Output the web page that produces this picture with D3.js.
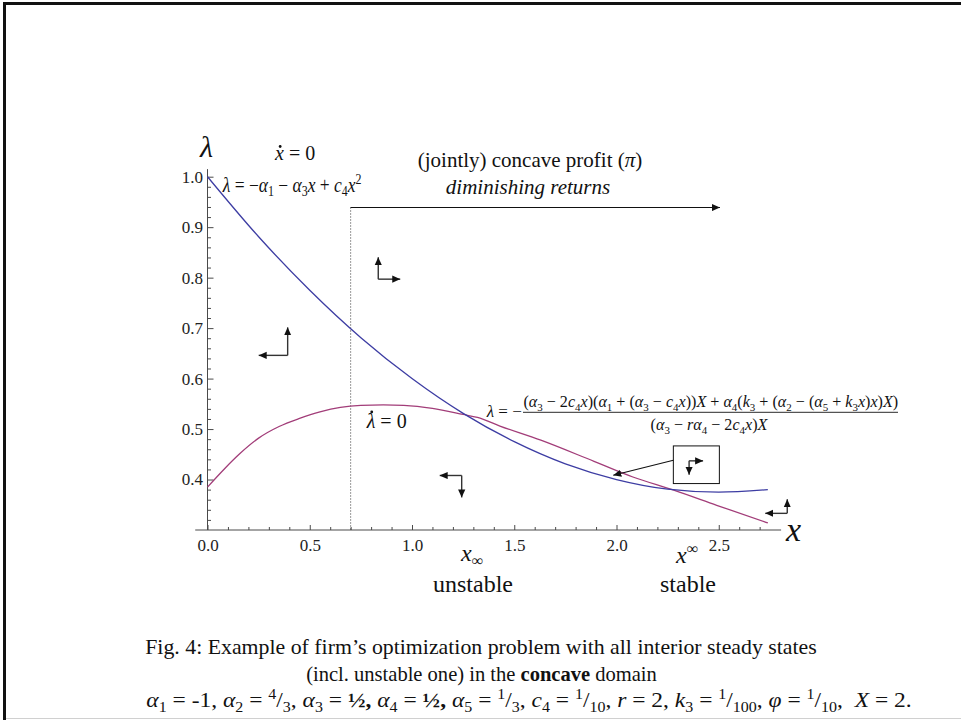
<!DOCTYPE html>
<html>
<head>
<meta charset="utf-8">
<script src="https://cdn.jsdelivr.net/npm/d3@7"></script>
<style>
body{margin:0;background:#fff;}
svg{display:block;font-family:"Liberation Serif","Times New Roman",serif;}
text{white-space:pre;}
</style>
</head>
<body>
<div id="chart"></div>
<script>
// x-dot = 0 isocline (blue)
var xdotX = [0, 0.25, 0.5, 0.75, 1.0, 1.25, 1.5, 1.75, 2.0, 2.25, 2.5, 2.74];
var xdotL = [1.0, 0.881, 0.775, 0.681, 0.60, 0.531, 0.475, 0.431, 0.40, 0.381, 0.375, 0.38];
// lambda-dot = 0 isocline (purple)
var ldotX = [0, 0.08, 0.16, 0.25, 0.35, 0.45, 0.55, 0.65, 0.75, 0.86, 0.96, 1.10, 1.25, 1.32, 1.43, 1.63, 1.89, 2.08, 2.28, 2.49, 2.74];
var ldotL = [0.385, 0.42, 0.452, 0.482, 0.505, 0.521, 0.534, 0.543, 0.547, 0.548, 0.547, 0.541, 0.529, 0.523, 0.506, 0.478, 0.436, 0.405, 0.379, 0.349, 0.314];

var xTicks = [0, 0.5, 1.0, 1.5, 2.0, 2.5];
var yTicks = [0.4, 0.5, 0.6, 0.7, 0.8, 0.9, 1.0];
var xMinor = d3.range(1, 28).filter(function(i){return i % 5 != 0;}).map(function(i){return i / 10;});
var yMinor = d3.range(16, 50).filter(function(i){return i % 5 != 0;}).map(function(i){return i / 50;});

var xBoundary = 0.7;   // concave domain starts here

var width = 961, height = 720;
var svg = d3.select("#chart").append("svg").attr("width", width).attr("height", height);

// slide frame
svg.append("rect").attr("x", 3).attr("y", 2).attr("width", 958).attr("height", 3).attr("fill", "#111");
svg.append("rect").attr("x", 3).attr("y", 2).attr("width", 3).attr("height", 718).attr("fill", "#111");
svg.append("line").attr("x1", 6).attr("x2", 961).attr("y1", 718.5).attr("y2", 718.5).attr("stroke", "#d0d0d0");

var x = d3.scaleLinear().domain([0, 2.8]).range([207.5, 780.1]);
var y = d3.scaleLinear().domain([0.3, 1.0]).range([530, 176.7]);

var defs = svg.append("defs");
defs.append("marker").attr("id", "head").attr("viewBox", "0 -4 8 8")
    .attr("refX", 8).attr("refY", 0).attr("markerWidth", 8).attr("markerHeight", 8)
    .attr("markerUnits", "userSpaceOnUse").attr("orient", "auto")
  .append("path").attr("d", "M0,-3.6L8,0L0,3.6Z").attr("fill", "#111");

// helper: text built from [string, "i b sub sup"] pieces
function mathText(g, x0, y0, size, segs, anchor){
  var t = g.append("text").attr("x", x0).attr("y", y0).attr("font-size", size)
    .attr("text-anchor", anchor || "start").attr("fill", "#111");
  var shift = 0;
  segs.forEach(function(s){
    var st = (s[1] || "").split(" ");
    var sub = st.indexOf("sub") >= 0, sup = st.indexOf("sup") >= 0;
    var fs = (sub || sup) ? size * 0.68 : size;
    var target = sub ? size * 0.22 : sup ? -size * 0.38 : 0;
    var ts = t.append("tspan").attr("font-size", fs).attr("dy", target - shift).text(s[0]);
    shift = target;
    if (st.indexOf("i") >= 0) ts.attr("font-style", "italic");
    if (st.indexOf("b") >= 0) ts.attr("font-weight", "bold");
  });
  return t;
}
// squeeze/stretch a text horizontally to a target width around an anchor x
function fitWidth(t, ax, w){
  var bw = t.node().getBBox().width;
  var s = w / bw;
  t.attr("transform", "translate(" + ax + ",0) scale(" + s + ",1) translate(" + (-ax) + ",0)");
  return s;
}
function dotOver(t, size, lift){
  var e = t.node().getExtentOfChar(0);
  svg.append("circle").attr("cx", e.x + e.width * 0.58).attr("cy", +t.attr("y") - lift)
    .attr("r", size * 0.07).attr("fill", "#111");
}

// axes
var axisColor = "#4a4a4a";
var gx = svg.append("g").attr("transform", "translate(0," + y(0.3) + ")");
gx.call(d3.axisBottom(x).tickValues(xTicks).tickFormat(d3.format(".1f")).tickSize(-5).tickPadding(9))
  .call(function(g){ g.select(".domain").remove(); });
gx.append("g").call(d3.axisBottom(x).tickValues(xMinor).tickFormat("").tickSize(-3))
  .call(function(g){ g.select(".domain").remove(); });
gx.append("line").attr("x1", x(-0.06)).attr("x2", x(2.8) + 1).attr("stroke", axisColor);

var gy = svg.append("g").attr("transform", "translate(" + x(0) + ",0)");
gy.call(d3.axisLeft(y).tickValues(yTicks).tickFormat(d3.format(".1f")).tickSize(-6).tickPadding(4.5))
  .call(function(g){ g.select(".domain").remove(); });
gy.append("g").call(d3.axisLeft(y).tickValues(yMinor).tickFormat("").tickSize(-3.5))
  .call(function(g){ g.select(".domain").remove(); });
gy.append("line").attr("y1", y(0.3)).attr("y2", y(1.015)).attr("stroke", axisColor);

svg.selectAll(".tick line").attr("stroke", axisColor);
svg.selectAll(".tick text")
  .style("font-family", "'Liberation Serif', 'Times New Roman', serif")
  .style("font-size", "17px").attr("fill", "#222");

// concave-domain marker
var yTop = 0.939;
svg.append("line").attr("x1", x(xBoundary)).attr("x2", x(xBoundary)).attr("y1", y(yTop)).attr("y2", y(0.3))
  .attr("stroke", "#333").attr("stroke-width", 1).attr("stroke-dasharray", "1,2");
svg.append("line").attr("x1", x(xBoundary)).attr("x2", x(2.506)).attr("y1", y(yTop)).attr("y2", y(yTop))
  .attr("stroke", "#111").attr("stroke-width", 1.1).attr("marker-end", "url(#head)");

var head = svg.append("text").attr("x", 530).attr("y", 167).attr("font-size", 21).attr("text-anchor", "middle").attr("fill", "#111");
head.append("tspan").text("(jointly) concave profit (");
head.append("tspan").attr("font-style", "italic").text("π");
head.append("tspan").text(")");
svg.append("text").attr("x", 528).attr("y", 194).attr("font-size", 21).attr("text-anchor", "middle")
  .attr("font-style", "italic").attr("fill", "#111").text("diminishing returns");

// isoclines
var line = d3.line().x(function(d){return x(d[0]);}).y(function(d){return y(d[1]);}).curve(d3.curveMonotoneX);
svg.append("path").datum(d3.zip(ldotX, ldotL)).attr("d", line)
  .attr("fill", "none").attr("stroke", "#a23d79").attr("stroke-width", 1.3);
svg.append("path").datum(d3.zip(xdotX, xdotL)).attr("d", line)
  .attr("fill", "none").attr("stroke", "#3d3da3").attr("stroke-width", 1.3);

// phase arrows: corner (data coords) + horizontal / vertical lengths in px
var phaseArrows = [
  {cx: 0.392, cy: 0.646, h: -29, v: -28},
  {cx: 0.835, cy: 0.797, h: 22, v: -22},
  {cx: 1.243, cy: 0.408, h: -22, v: 22},
  {cx: 2.355, cy: 0.437, h: 14, v: 14},
  {cx: 2.835, cy: 0.333, h: -22, v: -14}
];
phaseArrows.forEach(function(a){
  var px = x(a.cx), py = y(a.cy);
  [[a.h, 0], [0, a.v]].forEach(function(d){
    svg.append("line").attr("x1", px).attr("y1", py).attr("x2", px + d[0]).attr("y2", py + d[1])
      .attr("stroke", "#333").attr("stroke-width", 1.4).attr("marker-end", "url(#head)");
  });
});
// boxed arrow with pointer to the crossing
svg.append("rect").attr("x", x(2.278)).attr("y", y(0.4666)).attr("width", x(2.503) - x(2.278))
  .attr("height", y(0.392) - y(0.4666)).attr("fill", "none").attr("stroke", "#111").attr("stroke-width", 1);
svg.append("line").attr("x1", x(2.278)).attr("y1", y(0.4382)).attr("x2", x(1.984)).attr("y2", y(0.4085))
  .attr("stroke", "#111").attr("stroke-width", 1.1).attr("marker-end", "url(#head)");

// formula labels
var lab = svg.append("g");
var t1 = mathText(lab, 275, 160, 20, [["x", "i"], [" = 0"]]);
dotOver(t1, 20, 13.5);
var t2 = mathText(lab, 222.7, 191.7, 20, [["λ", "i"], [" = −"], ["α", "i"], ["1", "sub"], [" − "], ["α", "i"], ["3", "sub"],
  ["x", "i"], [" + "], ["c", "i"], ["4", "sub"], ["x", "i"], ["2", "sup"]]);
fitWidth(t2, 222.7, 140);
var t3 = mathText(lab, 366.7, 428, 20, [["λ", "i"], [" = 0"]]);
dotOver(t3, 20, 16);

mathText(lab, 486.7, 417, 17, [["λ", "i"], [" = −"]]);
var num = mathText(lab, 710.8, 407, 16, [["("], ["α", "i"], ["3", "sub"], [" − 2"], ["c", "i"], ["4", "sub"], ["x", "i"], [")("],
  ["α", "i"], ["1", "sub"], [" + ("], ["α", "i"], ["3", "sub"], [" − "], ["c", "i"], ["4", "sub"], ["x", "i"], ["))"], ["X", "i"],
  [" + "], ["α", "i"], ["4", "sub"], ["("], ["k", "i"], ["3", "sub"], [" + ("], ["α", "i"], ["2", "sub"], [" − ("], ["α", "i"],
  ["5", "sub"], [" + "], ["k", "i"], ["3", "sub"], ["x", "i"], [")"], ["x", "i"], [")"], ["X", "i"], [")"]], "middle");
var sc = fitWidth(num, 710.8, 375);
var den = mathText(lab, 709, 430, 16, [["("], ["α", "i"], ["3", "sub"], [" − "], ["r", "i"], ["α", "i"], ["4", "sub"],
  [" − 2"], ["c", "i"], ["4", "sub"], ["x", "i"], [")"], ["X", "i"]], "middle");
den.attr("transform", "translate(709,0) scale(" + sc + ",1) translate(-709,0)");
lab.append("line").attr("x1", 523).attr("x2", 898).attr("y1", 412.3).attr("y2", 412.3).attr("stroke", "#111").attr("stroke-width", 0.9);

// axis titles and steady states
svg.append("text").attr("x", 200).attr("y", 157).attr("font-size", 30).attr("font-style", "italic").attr("fill", "#111").text("λ");
svg.append("text").attr("x", 786).attr("y", 541).attr("font-size", 34).attr("font-style", "italic").attr("fill", "#111").text("x");
mathText(svg, 461, 561, 24, [["x", "i"], ["∞", "sub"]]);
mathText(svg, 676, 563, 24, [["x", "i"], ["∞", "sup"]]);
svg.append("text").attr("x", 473).attr("y", 592).attr("font-size", 24).attr("text-anchor", "middle").attr("fill", "#111").text("unstable");
svg.append("text").attr("x", 688).attr("y", 592).attr("font-size", 24).attr("text-anchor", "middle").attr("fill", "#111").text("stable");

// caption
var c1 = mathText(svg, 481, 654, 22, [["Fig. 4: Example of firm’s optimization problem with all interior steady states"]], "middle");
fitWidth(c1, 481, 672);
var c2 = mathText(svg, 481.5, 681, 22, [["(incl. unstable one) in the "], ["concave", "b"], [" domain"]], "middle");
fitWidth(c2, 481.5, 351);
var c3 = mathText(svg, 529, 707, 22, [["α", "i"], ["1", "sub"], [" = -1, "], ["α", "i"], ["2", "sub"], [" = "], ["4", "sup"], ["/"], ["3", "sub"],
  [", "], ["α", "i"], ["3", "sub"], [" = "], ["½,", "b"], [" "], ["α", "i"], ["4", "sub"], [" = "], ["½,", "b"], [" "], ["α", "i"], ["5", "sub"],
  [" = "], ["1", "sup"], ["/"], ["3", "sub"], [", "], ["c", "i"], ["4", "sub"], [" = "], ["1", "sup"], ["/"], ["10", "sub"], [", "],
  ["r", "i"], [" = 2, "], ["k", "i"], ["3", "sub"], [" = "], ["1", "sup"], ["/"], ["100", "sub"], [", "], ["φ", "i"], [" = "],
  ["1", "sup"], ["/"], ["10", "sub"], [",  "], ["X", "i"], [" = 2."]], "middle");
fitWidth(c3, 529, 766);
</script>
</body>
</html>
